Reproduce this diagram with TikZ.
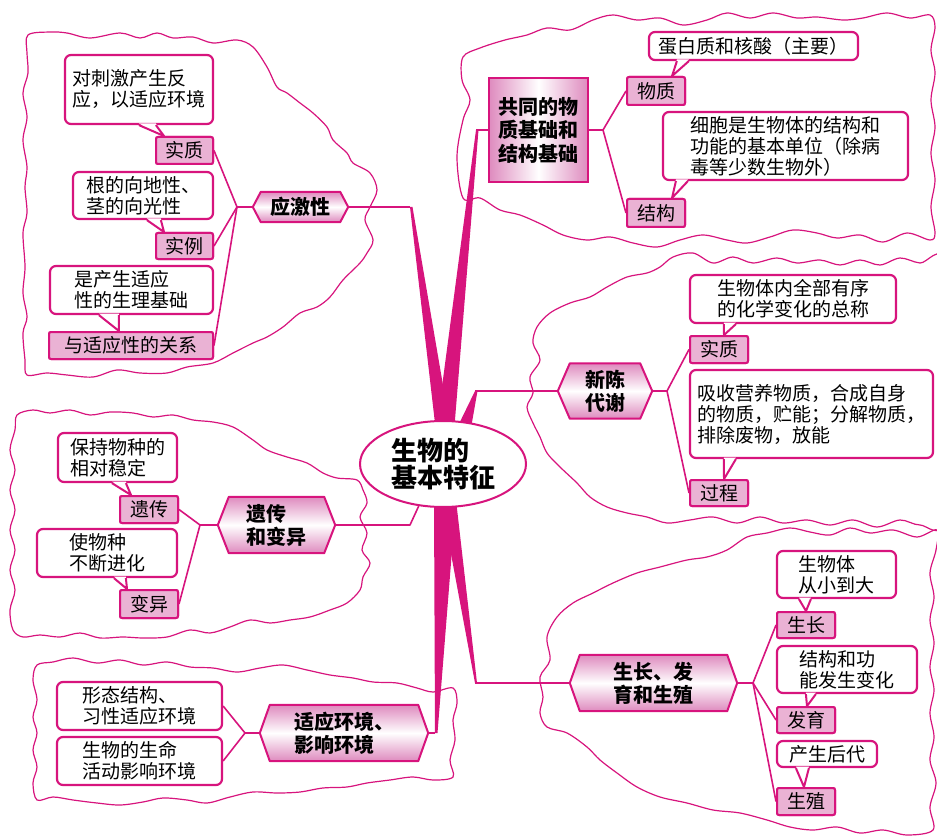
\documentclass[tikz,border=0pt]{standalone}
\usepackage{fontspec}
\setmainfont{Noto Sans CJK SC}
\usetikzlibrary{calc,shapes.geometric}
\definecolor{mg}{RGB}{215,20,125}
\definecolor{lblfill}{RGB}{234,178,212}
\definecolor{hexpink}{RGB}{222,138,190}
\pgfdeclarelayer{back}
\pgfdeclarelayer{bg}
\pgfsetlayers{back,bg,main}
\tikzset{
 callout/.style={draw=mg, line width=2.2pt, fill=white, rounded corners=6pt, inner sep=0pt, align=left, font=\fontsize{19}{21}\selectfont},
 lbl/.style={draw=mg, line width=2pt, fill=lblfill, rounded corners=2pt, inner sep=0pt, font=\fontsize{19}{21}\selectfont},
 hexn/.style={inner sep=0pt, align=left, font=\fontsize{20}{23}\selectfont\bfseries},
 conn/.style={draw=mg, line width=1.6pt, line join=round},
 cloudline/.style={draw=mg, line width=1.2pt},
 wedgefill/.style={fill=mg},
 tailline/.style={draw=mg, line width=2pt, line join=round},
}
\newcommand\hexdraw[2]{%
 \shadedraw[top color=hexpink, bottom color=hexpink, middle color=white, draw=mg, line width=2pt, line join=round]
 (#1.west) -- ($(#1.north west)+(#2,0)$) -- ($(#1.north east)+(-#2,0)$) -- (#1.east)
 -- ($(#1.south east)+(-#2,0)$) -- ($(#1.south west)+(#2,0)$) -- cycle;}
\newcommand\calltail[4]{%
 \fill[white] ($(#1.south west)+(#2,-1.6)$) -- #4 -- ($(#1.south west)+(#3,-1.6)$) -- cycle;
 \draw[tailline] ($(#1.south west)+(#2,0)$) -- #4 -- ($(#1.south west)+(#3,0)$);}
\begin{document}
\begin{tikzpicture}[x=1pt,y=-1pt]
\useasboundingbox (0,0) rectangle (937,837);
\clip (0,0) rectangle (937,837);
% ---------- clouds ----------
\begin{pgfonlayer}{back}
\draw[cloudline] plot[smooth cycle, tension=0.55] coordinates {(28,35)(50,32)(67,33)(90,38)(120,33)(140,38)(157,33)(173,38)(193,37)(213,43)(237,40)(253,47)(267,67)(277,87)(287,93)(300,103)(313,113)(327,127)(333,140)(347,153)(353,163)(370,173)(377,190)(370,207)(365,220)(373,240)(367,253)(360,263)(343,280)(330,297)(317,307)(300,313)(283,327)(267,337)(253,343)(233,353)(213,363)(187,367)(167,373)(140,373)(117,370)(93,377)(67,375)(47,373)(27,375)(25,360)(23,333)(27,317)(23,293)(25,267)(23,233)(27,213)(25,187)(27,167)(23,140)(27,117)(23,93)(28,73)(27,53)};
\draw[cloudline] plot[smooth cycle, tension=0.55] coordinates {(463,57)(480,48)(505,40)(527,35)(547,28)(570,30)(593,20)(613,15)(637,20)(660,18)(683,25)(707,20)(727,13)(750,18)(773,13)(797,18)(817,17)(843,20)(863,18)(887,13)(910,18)(930,15)(935,27)(931,50)(935,73)(931,100)(935,127)(931,153)(935,180)(931,207)(935,233)(930,240)(907,233)(883,242)(860,235)(837,238)(817,233)(793,230)(770,237)(747,243)(727,240)(703,235)(680,240)(657,247)(633,243)(610,237)(587,240)(563,235)(543,225)(520,215)(500,210)(480,198)(463,198)(457,157)(463,120)(470,100)(462,80)};
\draw[cloudline] plot[smooth cycle, tension=0.55] coordinates {(945,262)(920,263)(900,258)(880,265)(860,260)(840,265)(820,260)(797,263)(777,258)(753,263)(733,257)(713,263)(693,253)(673,257)(660,267)(647,273)(627,277)(607,287)(590,297)(570,303)(550,313)(537,327)(533,343)(540,360)(530,377)(533,393)(527,407)(533,423)(540,437)(547,453)(560,467)(577,483)(590,497)(607,507)(627,513)(647,517)(667,523)(690,520)(713,517)(737,523)(760,517)(783,523)(807,520)(830,525)(853,520)(877,527)(900,520)(920,525)(945,520)(950,390)};
\draw[cloudline] plot[smooth cycle, tension=0.55] coordinates {(17,415)(33,410)(50,413)(70,410)(90,415)(110,412)(133,413)(153,417)(173,415)(193,420)(213,422)(233,427)(253,440)(267,450)(287,457)(307,463)(323,473)(337,478)(357,480)(363,490)(367,503)(360,517)(367,533)(362,550)(370,563)(363,577)(360,590)(347,603)(330,610)(310,617)(290,620)(270,623)(250,620)(230,627)(210,633)(190,630)(167,637)(143,638)(123,637)(100,638)(80,633)(60,637)(40,635)(23,637)(13,630)(10,610)(15,590)(10,570)(15,550)(10,530)(15,510)(10,490)(15,470)(10,450)(15,430)};
\draw[cloudline] plot[smooth cycle, tension=0.55] coordinates {(37,665)(53,662)(73,658)(97,663)(120,660)(143,665)(167,662)(190,667)(213,668)(237,672)(260,668)(283,665)(307,670)(330,675)(353,678)(373,682)(397,683)(417,688)(433,692)(453,688)(457,703)(453,720)(455,740)(450,760)(453,777)(433,780)(413,777)(390,780)(367,783)(347,787)(323,788)(300,792)(277,793)(253,792)(230,797)(207,803)(187,800)(163,798)(143,802)(120,805)(97,803)(73,800)(53,797)(37,800)(33,783)(37,767)(33,750)(37,733)(33,717)(37,700)(33,680)};
\draw[cloudline] plot[smooth cycle, tension=0.55] coordinates {(937,530)(917,537)(893,530)(870,533)(850,528)(830,535)(810,532)(790,528)(767,533)(747,537)(727,550)(707,557)(687,560)(660,567)(637,573)(613,583)(593,593)(573,603)(557,617)(547,637)(550,660)(540,677)(543,697)(540,713)(547,727)(567,733)(587,747)(600,760)(617,773)(637,787)(660,797)(687,803)(713,810)(740,813)(767,820)(790,827)(813,830)(837,827)(860,833)(883,830)(907,835)(933,830)(930,807)(936,783)(930,760)(934,737)(930,713)(934,690)(930,667)(934,643)(930,620)(934,597)(930,573)(936,550)};
\end{pgfonlayer}
% ---------- centre ----------
\node[draw=mg, line width=2pt, fill=white, ellipse, minimum width=166pt, minimum height=86pt, inner sep=0pt, align=left, font=\fontsize{26}{27}\selectfont\bfseries] (ctr) at (443,464) {生物的\\基本特征};
% ---------- hex / main topic nodes ----------
\node[hexn, minimum width=95pt, minimum height=30pt] (h1) at (300.5,207) {应激性};
\node[hexn, minimum width=94pt, minimum height=55pt] (h2) at (605,391) {新陈\\代谢};
\node[hexn, minimum width=117pt, minimum height=56pt] (h3) at (276.5,525) {遗传\\和变异};
\node[hexn, minimum width=168pt, minimum height=56pt] (h4) at (344,733) {适应环境、\\影响环境};
\node[hexn, minimum width=167pt, minimum height=56pt] (h5) at (653.5,683) {生长、发\\育和生殖};
\node[hexn, minimum width=99pt, minimum height=104pt, font=\fontsize{20}{23.5}\selectfont\bfseries] (b0) at (538.5,130) {共同的物\\质基础和\\结构基础};
\begin{pgfonlayer}{bg}
\hexdraw{h1}{8}
\hexdraw{h2}{12}
\hexdraw{h3}{11}
\hexdraw{h4}{10}
\hexdraw{h5}{10}
\shadedraw[left color=hexpink, right color=hexpink, middle color=white, draw=mg, line width=2pt] (b0.north west) rectangle (b0.south east);
% wedges to centre
\coordinate (e1) at (410,207);
\coordinate (e2) at (476,130);
\coordinate (e3) at (475,391);
\coordinate (e4) at (435,733);
\coordinate (e5) at (475,683);
\coordinate (w1a) at (436,432); \coordinate (w1b) at (451,432);
\coordinate (w2a) at (436,432); \coordinate (w2b) at (454,432);
\coordinate (w3a) at (457,428); \coordinate (w3b) at (471,428);
\coordinate (w4a) at (434,500); \coordinate (w4b) at (456,500);
\coordinate (w5a) at (441,500); \coordinate (w5b) at (456,500);
\fill[wedgefill] (e1) -- ++(2.5,0) -- (w1b) -- (w1a) -- cycle;
\fill[wedgefill] (e2) -- ++(2.5,0) -- (w2b) -- (w2a) -- cycle;
\fill[wedgefill] (e3) -- ++(2.5,0) -- (w3b) -- (w3a) -- cycle;
\fill[wedgefill] (e4) -- ++(2.5,0) -- (w4b) -- (w4a) -- cycle;
\fill[wedgefill] (e5) -- ++(2,0) -- (w5b) -- (w5a) -- cycle;
\end{pgfonlayer}
% ---------- top-left cluster ----------
\node[callout, minimum width=148pt, minimum height=69pt] (c1) at (139,89.5) {对刺激产生反\\应，以适应环境};
\node[callout, minimum width=140pt, minimum height=47pt] (c2) at (143,195.5) {根的向地性、\\茎的向光性};
\node[callout, minimum width=163pt, minimum height=48pt] (c3) at (131.5,290) {是产生适应\\性的生理基础};
\node[lbl, minimum width=57pt, minimum height=27pt] (l1) at (184.5,150.5) {实质};
\node[lbl, minimum width=57pt, minimum height=26pt] (l2) at (184.5,246) {实例};
\node[lbl, minimum width=164pt, minimum height=27pt] (l3) at (131,345.5) {与适应性的关系};
\calltail{c1}{75}{92}{($(l1.north west)+(9,0)$)}
\calltail{c2}{75}{89}{($(l2.north west)+(9,0)$)}
\calltail{c3}{50}{70}{($(l3.north west)+(71,0)$)}
\node[lbl, minimum width=57pt, minimum height=27pt] at (l1) {实质};
\node[lbl, minimum width=57pt, minimum height=26pt] at (l2) {实例};
\node[lbl, minimum width=164pt, minimum height=27pt] at (l3) {与适应性的关系};
\coordinate (j1) at (237,207);
\draw[conn] (h1.west) -- (j1);
\draw[conn] (j1) -- (l1.east);
\draw[conn] (j1) -- (l2.east);
\draw[conn] (j1) -- (l3.east);
\draw[conn] (h1.east) -- (e1);
% ---------- top-right cluster ----------
\node[callout, minimum width=209pt, minimum height=28pt] (c4) at (753.5,46) {蛋白质和核酸（主要）};
\node[callout, minimum width=245pt, minimum height=68pt] (c5) at (785.5,146) {细胞是生物体的结构和\\功能的基本单位（除病\\毒等少数生物外）};
\node[lbl, minimum width=58pt, minimum height=28pt] (l4) at (656,91) {物质};
\node[lbl, minimum width=58pt, minimum height=28pt] (l5) at (656,213) {结构};
\calltail{c4}{29}{41}{($(l4.north west)+(46,0)$)}
\calltail{c5}{14}{26}{($(l5.north west)+(46,0)$)}
\node[lbl, minimum width=58pt, minimum height=28pt] at (l4) {物质};
\node[lbl, minimum width=58pt, minimum height=28pt] at (l5) {结构};
\coordinate (j2) at (603,130);
\draw[conn] (b0.east) -- (j2);
\draw[conn] (j2) -- (l4.west);
\draw[conn] (j2) -- (l5.west);
\draw[conn] (b0.west) -- (e2);
% ---------- right-middle cluster ----------
\node[callout, align=center, minimum width=206pt, minimum height=48pt] (c6) at (793,299) {生物体内全部有序\\的化学变化的总称};
\node[callout, minimum width=243pt, minimum height=88pt] (c7) at (811.5,414) {吸收营养物质，合成自身\\的物质，贮能；分解物质，\\排除废物，放能};
\node[lbl, minimum width=58pt, minimum height=27pt] (l6) at (719,349.5) {实质};
\node[lbl, minimum width=58pt, minimum height=26pt] (l7) at (719,493) {过程};
\calltail{c6}{35}{47}{($(l6.north west)+(35,0)$)}
\calltail{c7}{35}{47}{($(l7.north west)+(35,0)$)}
\node[lbl, minimum width=58pt, minimum height=27pt] at (l6) {实质};
\node[lbl, minimum width=58pt, minimum height=26pt] at (l7) {过程};
\coordinate (j3) at (667,391);
\draw[conn] (h2.east) -- (j3);
\draw[conn] (j3) -- (l6.west);
\draw[conn] (j3) -- (l7.west);
\draw[conn] (h2.west) -- (e3);
% ---------- left-middle cluster ----------
\node[callout, minimum width=119pt, minimum height=49pt] (c8) at (117.5,457.5) {保持物种的\\相对稳定};
\node[callout, minimum width=140pt, minimum height=48pt] (c9) at (107,553) {使物种\\不断进化};
\node[lbl, minimum width=58pt, minimum height=27pt] (l8) at (149,509.5) {遗传};
\node[lbl, minimum width=58pt, minimum height=28pt] (l9) at (149,604) {变异};
\calltail{c8}{55}{69}{($(l8.north west)+(12,0)$)}
\calltail{c9}{78}{90}{($(l9.north west)+(8,0)$)}
\node[lbl, minimum width=58pt, minimum height=27pt] at (l8) {遗传};
\node[lbl, minimum width=58pt, minimum height=28pt] at (l9) {变异};
\coordinate (j4) at (200,525);
\coordinate (e6) at (410,525);
\draw[conn] (h3.west) -- (j4);
\draw[conn] (j4) -- (l8.east);
\draw[conn] (j4) -- (l9.east);
\draw[conn] (h3.east) -- (e6) -- (ctr.240);
% ---------- bottom-left cluster ----------
\node[callout, minimum width=165pt, minimum height=48pt] (c10) at (139.5,706) {形态结构、\\习性适应环境};
\node[callout, minimum width=165pt, minimum height=48pt] (c11) at (139.5,761) {生物的生命\\活动影响环境};
\coordinate (j5) at (245,733);
\draw[conn] (h4.west) -- (j5);
\draw[conn] (j5) -- (c10.east);
\draw[conn] (j5) -- (c11.east);
\draw[conn] (h4.east) -- (e4);
% ---------- bottom-right cluster ----------
\node[callout, minimum width=119pt, minimum height=47pt] (c12) at (836.5,574.5) {生物体\\从小到大};
\node[callout, minimum width=140pt, minimum height=47pt] (c13) at (847,669.5) {结构和功\\能发生变化};
\node[callout, minimum width=100pt, minimum height=26pt] (c14) at (827,754) {产生后代};
\node[lbl, minimum width=58pt, minimum height=26pt] (l10) at (806,625) {生长};
\node[lbl, minimum width=58pt, minimum height=26pt] (l11) at (806,720) {发育};
\node[lbl, minimum width=58pt, minimum height=27pt] (l12) at (806,801.5) {生殖};
\calltail{c12}{23}{35}{($(l10.north west)+(30,0)$)}
\calltail{c13}{30}{40}{($(l11.north west)+(31,0)$)}
\calltail{c14}{20}{33}{($(l12.north west)+(28,0)$)}
\node[lbl, minimum width=58pt, minimum height=26pt] at (l10) {生长};
\node[lbl, minimum width=58pt, minimum height=26pt] at (l11) {发育};
\node[lbl, minimum width=58pt, minimum height=27pt] at (l12) {生殖};
\coordinate (j6) at (753,683);
\draw[conn] (h5.east) -- (j6);
\draw[conn] (j6) -- (l10.west);
\draw[conn] (j6) -- (l11.west);
\draw[conn] (j6) -- (l12.west);
\draw[conn] (h5.west) -- (e5);
\end{tikzpicture}
\end{document}
